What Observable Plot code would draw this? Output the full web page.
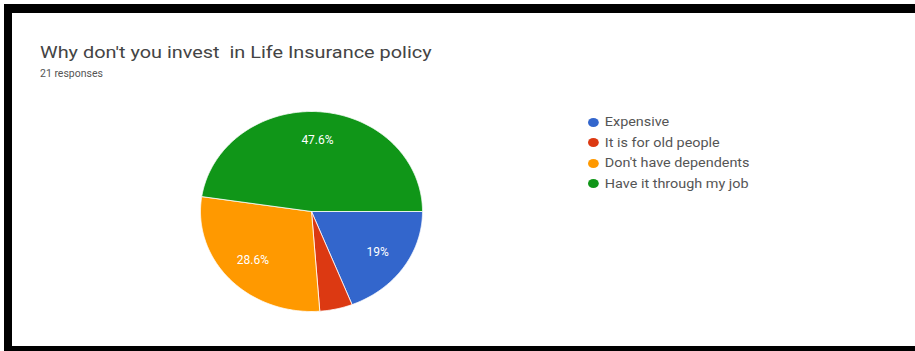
<!DOCTYPE html>
<html>
<head>
<meta charset="utf-8">
<script src="https://cdn.jsdelivr.net/npm/d3@7"></script>
<script src="https://cdn.jsdelivr.net/npm/@observablehq/plot@0.6"></script>
<style>
  html, body { margin: 0; padding: 0; background: #fff; width: 915px; height: 351px; overflow: hidden; font-family: Roboto, "Noto Sans", sans-serif; }
  #frame { position: absolute; left: 4px; top: 4px; width: 1000px; height: 333px; border-top: 9px solid #000; border-left: 8px solid #000; border-bottom: 6px solid #000; }
  #chart { position: absolute; left: 0; top: 0; }
  #title { position: absolute; left: 40px; top: 42px; font-size: 17px; color: #444; white-space: pre; transform: scaleX(1.17); transform-origin: 0 0; }
  #sub { position: absolute; left: 40px; top: 67px; font-size: 10.5px; color: #555; }
  #legend { position: absolute; left: 588px; top: 112px; font-size: 12px; color: #555; transform: scaleX(1.2); transform-origin: 0 0; }
  .item { display: flex; align-items: center; height: 20.5px; }
  .sw { width: 9px; height: 9px; border-radius: 50%; margin-right: 5px; }
</style>
</head>
<body>
<div id="frame"></div>
<div id="chart"></div>
<div id="title"></div>
<div id="sub"></div>
<div id="legend"></div>
<script>
const titleText = "Why don't you invest  in Life Insurance policy";
const subtitleText = "21 responses";
const categories = ["Expensive", "It is for old people", "Don't have dependents", "Have it through my job"];
const counts = [4, 1, 6, 10];
const colors = ["#3366cc", "#dc3912", "#ff9900", "#109618"];

const total = d3.sum(counts);
const arcs = d3.pie().sort(null).startAngle(Math.PI / 2).endAngle(Math.PI / 2 + 2 * Math.PI)(counts);

// polygon vertices in unit coordinates, derived from the pie angles
const poly = [];
arcs.forEach((a, i) => {
  const cat = categories[i];
  poly.push({cat, x: 0, y: 0});
  const n = Math.max(2, Math.ceil((a.endAngle - a.startAngle) / 0.01));
  for (let k = 0; k <= n; k++) {
    const t = a.startAngle + (a.endAngle - a.startAngle) * k / n;
    poly.push({cat, x: Math.sin(t), y: Math.cos(t)});
  }
  poly.push({cat, x: 0, y: 0});
});

const labels = arcs.map((a, i) => {
  const m = (a.startAngle + a.endAngle) / 2;
  const p = counts[i] / total * 100;
  return {cat: categories[i], x: 0.72 * Math.sin(m), y: 0.72 * Math.cos(m), v: p, text: (Math.round(p * 10) / 10) + "%"};
}).filter(d => d.v > 6);

const chart = Plot.plot({
  width: 915,
  height: 351,
  margin: 0,
  x: {domain: [-1, 1], range: [200, 422], axis: null},
  y: {domain: [-1, 1], range: [311, 111], axis: null},
  color: {domain: categories, range: colors},
  style: {background: "transparent", overflow: "visible"},
  marks: [
    Plot.line(poly, {x: "x", y: "y", z: "cat", fill: "cat", stroke: "#fff", strokeWidth: 0.8, curve: "linear"}),
    Plot.text(labels, {x: "x", y: "y", text: "text", fill: "#fff", fontSize: 12, fontFamily: "Roboto, sans-serif"})
  ]
});
document.getElementById("chart").appendChild(chart);
document.getElementById("title").textContent = titleText;
document.getElementById("sub").textContent = subtitleText;
const lg = document.getElementById("legend");
categories.forEach((c, i) => {
  const it = document.createElement("div");
  it.className = "item";
  const sw = document.createElement("span");
  sw.className = "sw";
  sw.style.background = colors[i];
  const tx = document.createElement("span");
  tx.textContent = c;
  it.appendChild(sw); it.appendChild(tx);
  lg.appendChild(it);
});
</script>
</body>
</html>
